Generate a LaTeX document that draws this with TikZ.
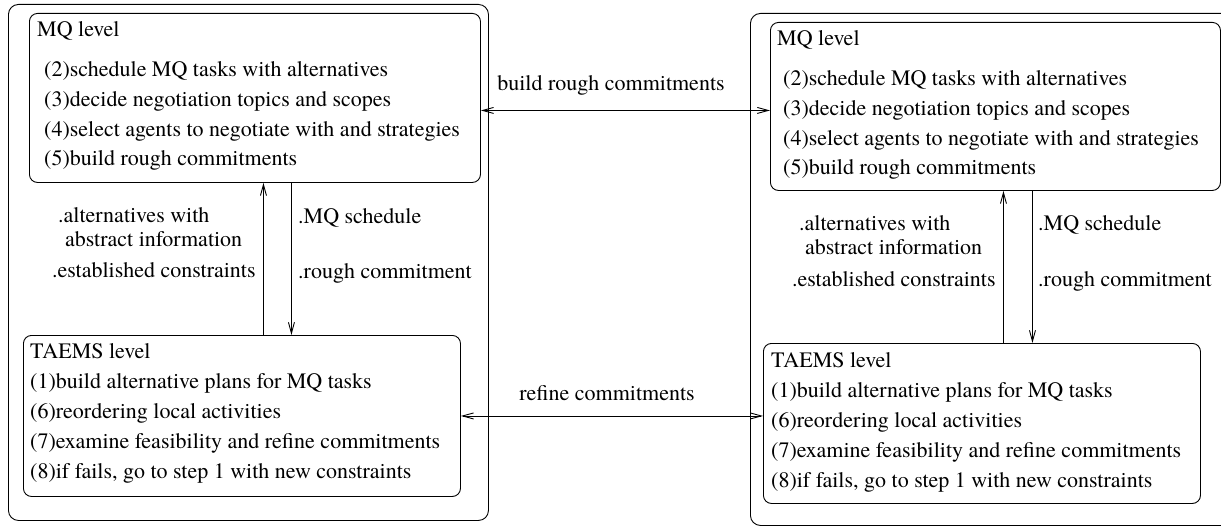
\documentclass[tikz,border=0pt]{standalone}
\usepackage{fontspec}
\setmainfont{texgyretermes-regular.otf}
\usetikzlibrary{positioning, arrows.meta}

\begin{document}
\begin{tikzpicture}[x=1pt, y=-1pt, >={Straight Barb[length=11pt,width=6pt]}]

  % Define box styles
  \tikzset{
    agent box/.style={draw, rounded corners=10pt, line width=0.9pt, anchor=north west, inner sep=0pt},
    level box/.style={draw, rounded corners=8pt, line width=0.9pt, anchor=north west, inner sep=0pt},
    box text/.style={align=left, inner sep=0pt, anchor=north west, font=\fontsize{22}{30}\selectfont},
    flow label/.style={inner sep=0pt, anchor=base west, font=\fontsize{22}{26}\selectfont},
    flow/.style={line width=0.9pt},
  }

  \path[use as bounding box, clip] (0,0) rectangle (1221,527);

  % Left agent
  \node[agent box, minimum width=480pt, minimum height=516pt] (agentL) at (8,4) {};
  \node[level box, minimum width=451pt, minimum height=169pt] (mqL) at (29,13) {};
  \node[box text, below right=8pt and 8pt of mqL.north west] (mqLtitle) {MQ level};
  \node[box text, font=\fontsize{22}{29.7}\selectfont, below right=48.5pt and 15pt of mqL.north west] (mqLitems) {%
    (2)schedule MQ tasks with alternatives\\
    (3)decide negotiation topics and scopes\\
    (4)select agents to negotiate with and strategies\\
    (5)build rough commitments};

  \node[level box, minimum width=437pt, minimum height=161pt] (taL) at (23,335) {};
  \node[box text, below right=8pt and 7pt of taL.north west] (taLtext) {%
    TAEMS level\\
    (1)build alternative plans for MQ tasks\\
    (6)reordering local activities\\
    (7)examine feasibility and refine commitments\\
    (8)if fails, go to step 1 with new constraints};

  % Right agent
  \node[agent box, minimum width=482pt, minimum height=512pt] (agentR) at (750,13) {};
  \node[level box, minimum width=450pt, minimum height=168pt] (mqR) at (770,22) {};
  \node[box text, below right=8pt and 7pt of mqR.north west] (mqRtitle) {MQ level};
  \node[box text, font=\fontsize{22}{29.7}\selectfont, below right=48.5pt and 13pt of mqR.north west] (mqRitems) {%
    (2)schedule MQ tasks with alternatives\\
    (3)decide negotiation topics and scopes\\
    (4)select agents to negotiate with and strategies\\
    (5)build rough commitments};

  \node[level box, minimum width=437pt, minimum height=160pt] (taR) at (763,343) {};
  \node[box text, below right=9pt and 8pt of taR.north west] (taRtext) {%
    TAEMS level\\
    (1)build alternative plans for MQ tasks\\
    (6)reordering local activities\\
    (7)examine feasibility and refine commitments\\
    (8)if fails, go to step 1 with new constraints};

  % Vertical flows inside each agent
  \coordinate (upL) at ([xshift=21.5pt]taL.north);
  \coordinate (downL) at ([xshift=49.5pt]taL.north);
  \draw[flow, ->] (upL) -- (upL |- mqL.south);
  \draw[flow, ->] (downL |- mqL.south) -- (downL);

  \coordinate (upR) at ([xshift=21.5pt]taR.north);
  \coordinate (downR) at ([xshift=50.5pt]taR.north);
  \draw[flow, ->] (upR) -- (upR |- mqR.south);
  \draw[flow, ->] (downR |- mqR.south) -- (downR);

  \node[flow label] (altL) at (58,222) {.alternatives with};
  \node[flow label] (absL) at (65,246) {abstract information};
  \node[flow label] (conL) at (52,277) {.established constraints};
  \node[flow label] (schL) at (298,223) {.MQ schedule};
  \node[flow label] (comL) at (298,278) {.rough commitment};

  \node[flow label] (altR) at (799,230) {.alternatives with};
  \node[flow label] (absR) at (805,254) {abstract information};
  \node[flow label] (conR) at (792,286) {.established constraints};
  \node[flow label] (schR) at (1038,230) {.MQ schedule};
  \node[flow label] (comR) at (1038,286) {.rough commitment};

  % Flows between the agents
  \coordinate (brcL) at ([yshift=-12.5pt]mqL.east);
  \draw[flow, <->] (brcL) -- (brcL -| mqR.west);
  \node[font=\fontsize{22}{26}\selectfont, inner sep=0pt] (brcLabel) at (611,85) {build rough commitments};

  \draw[flow, <->] (taL.east) -- (taL.east -| taR.west);
  \node[font=\fontsize{22}{26}\selectfont, inner sep=0pt] (rcLabel) at (607,393) {refine commitments};

\end{tikzpicture}
\end{document}
